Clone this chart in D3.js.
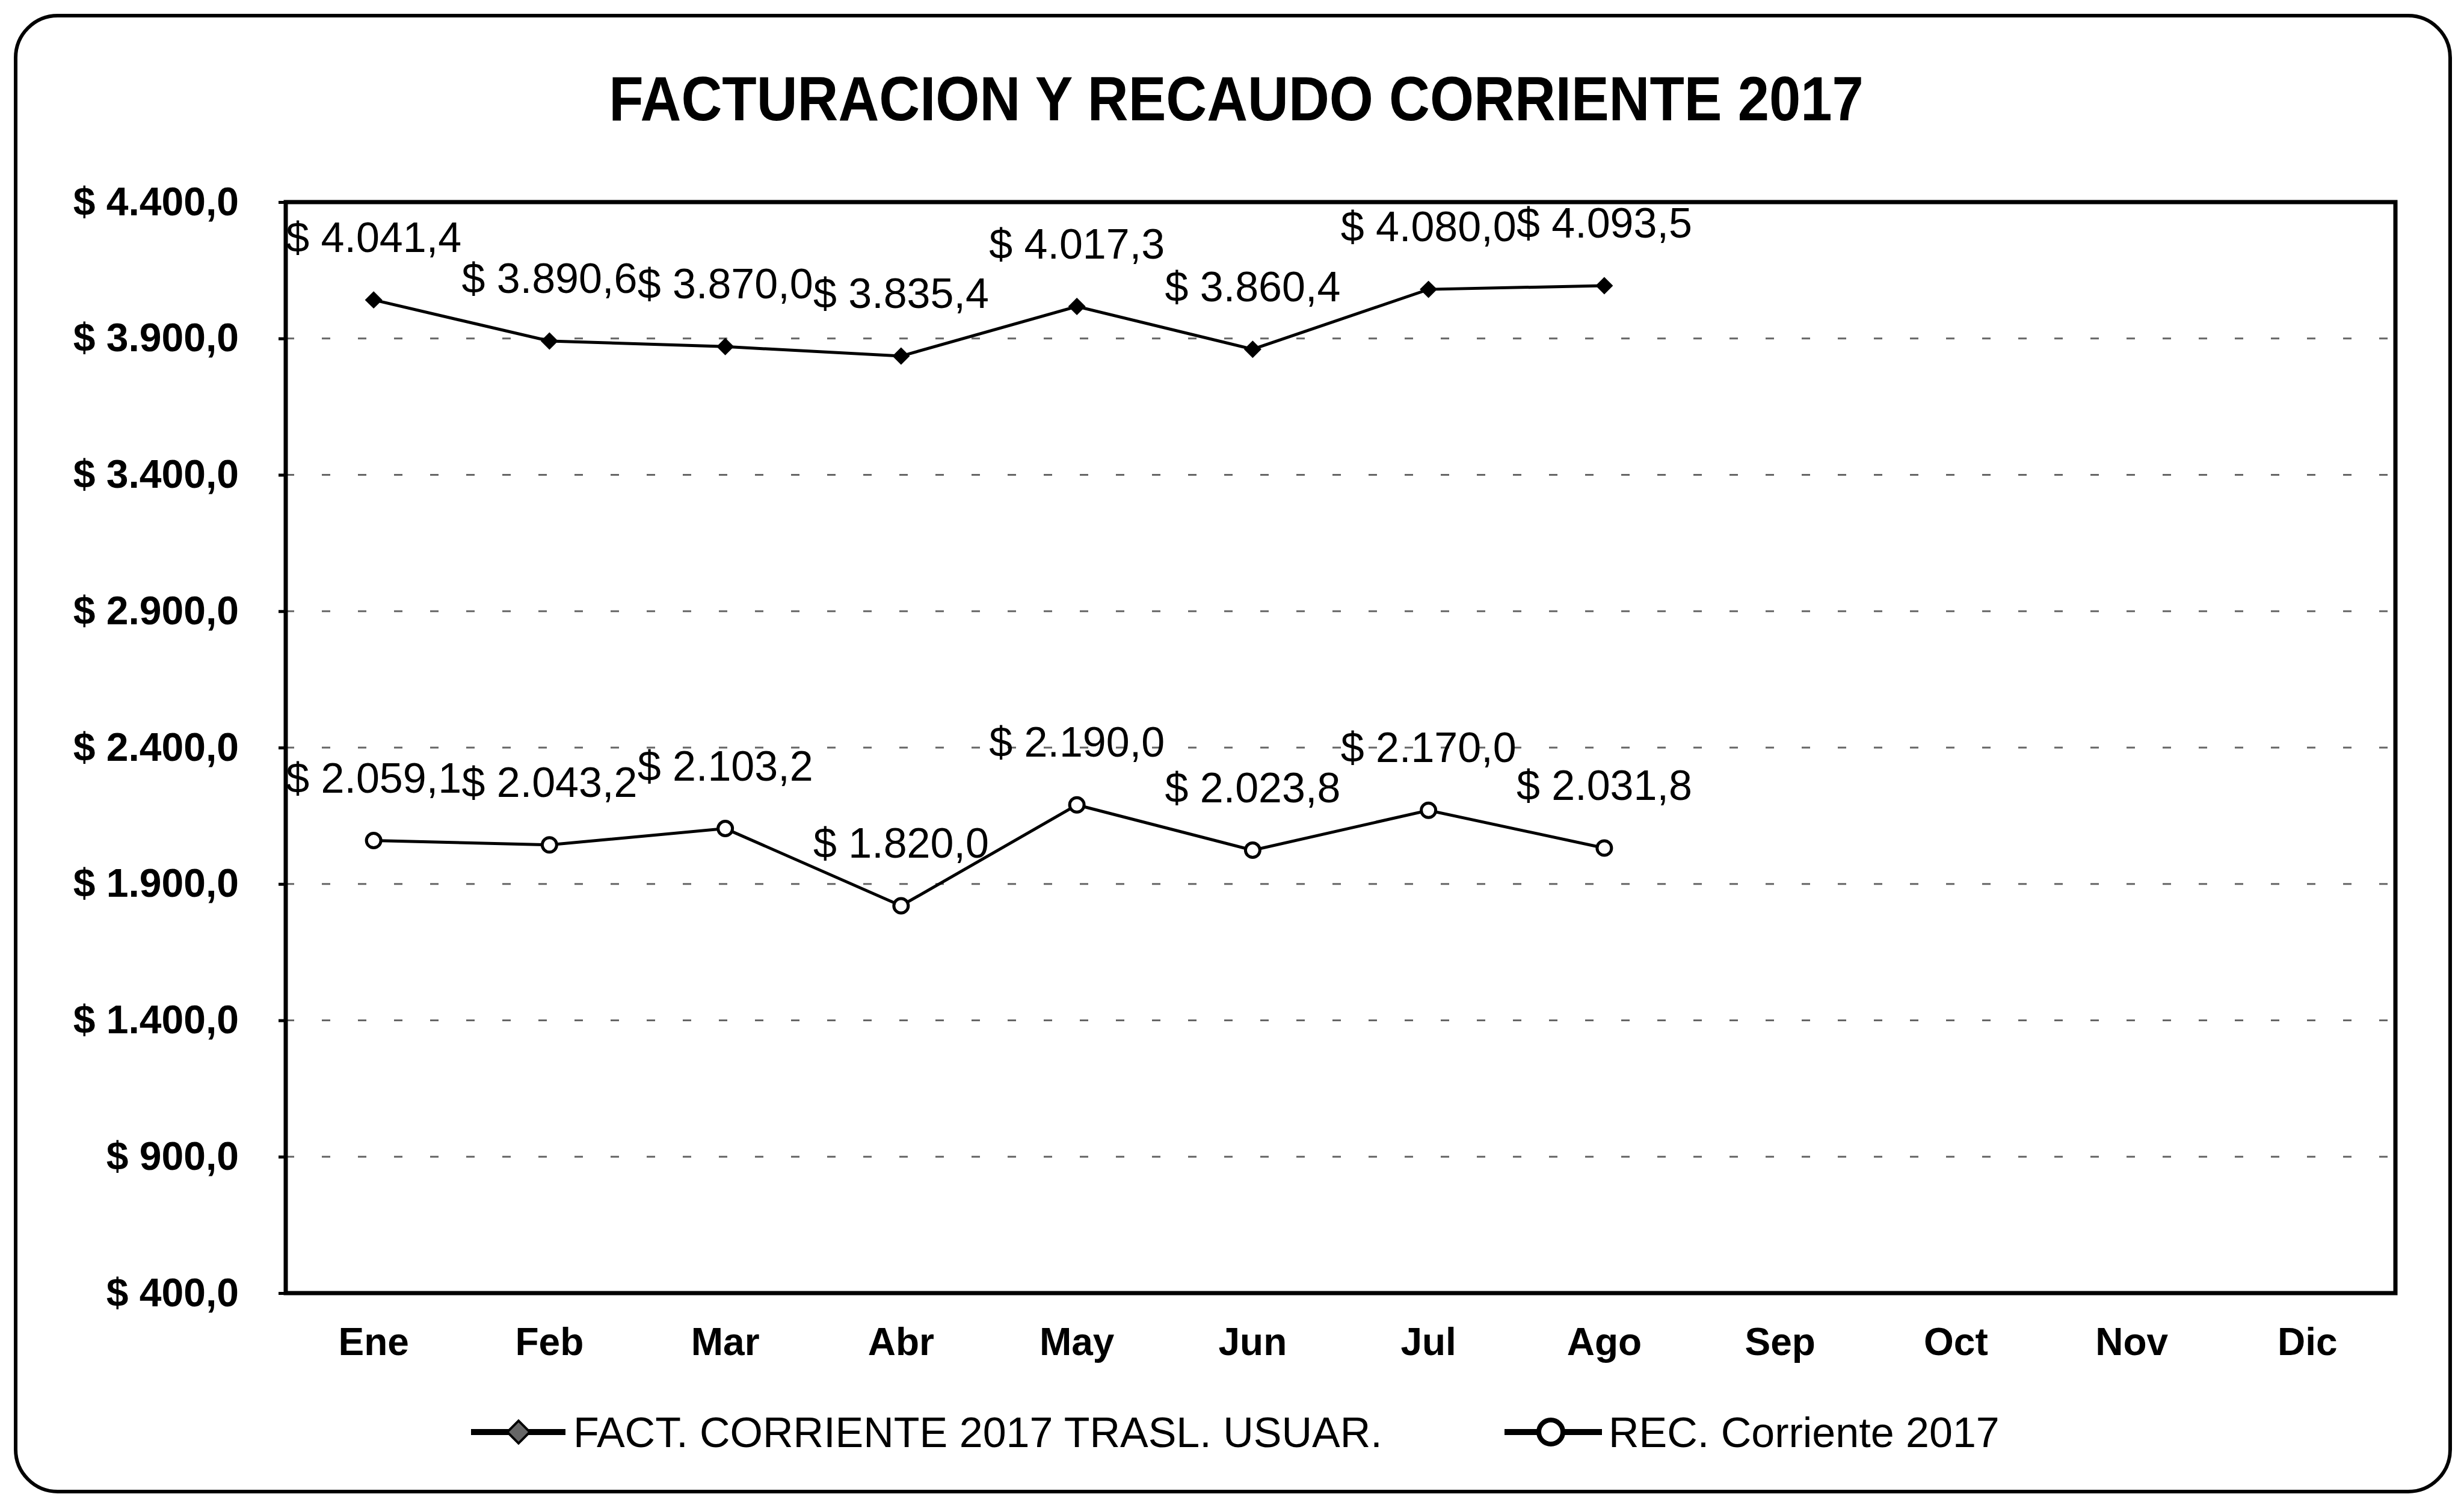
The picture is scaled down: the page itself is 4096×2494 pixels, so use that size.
<!DOCTYPE html>
<html lang="es">
<head>
  <meta charset="UTF-8">
  <title>Facturacion y Recaudo Corriente 2017</title>
  <script src="https://d3js.org/d3.v7.min.js"></script>
  <style>
    body { margin: 0; background: #fff; }
    text { font-family: "Liberation Sans", Arial, sans-serif; fill: #000; }
    .title { font-size: 94px; font-weight: bold; text-anchor: middle; }
    .y-axis text { font-size: 66px; font-weight: bold; }
    .x-axis text { font-size: 64px; font-weight: bold; }
    .axis path { display: none; }
    .y-axis line { stroke: #000; stroke-width: 5; }
    .grid line { stroke: #666; stroke-width: 3; stroke-dasharray: 14 46; }
    .label { font-size: 70px; text-anchor: middle; }
    .legend text { font-size: 70px; }
  </style>
</head>
<body>
  <div id="chart"></div>
  <script>
    // months and values (millions)
    const months = ["Ene", "Feb", "Mar", "Abr", "May", "Jun", "Jul", "Ago", "Sep", "Oct", "Nov", "Dic"];
    const factValues = [4041.4, 3890.6, 3870.0, 3835.4, 4017.3, 3860.4, 4080.0, 4093.5];
    const recValues = [2059.1, 2043.2, 2103.2, 1820.0, 2190.0, 2023.8, 2170.0, 2031.8];
    const yTicks = [400, 900, 1400, 1900, 2400, 2900, 3400, 3900, 4400];
    const seriesNames = ["FACT. CORRIENTE 2017 TRASL. USUAR.", "REC. Corriente 2017"];

    const W = 4096, H = 2494;
    const plot = { left: 475, right: 3982, top: 336, bottom: 2150 };

    const locale = d3.formatLocale({ decimal: ",", thousands: ".", grouping: [3], currency: ["$ ", ""] });
    const fmt = locale.format("$,.1f");

    const svg = d3.select("#chart").append("svg")
      .attr("width", W).attr("height", H);

    // outer rounded frame
    svg.append("rect")
      .attr("x", 26).attr("y", 26)
      .attr("width", 4073 - 26).attr("height", 2480 - 26)
      .attr("rx", 70).attr("ry", 70)
      .attr("fill", "#fff").attr("stroke", "#000").attr("stroke-width", 6);

    svg.append("text").attr("class", "title")
      .attr("transform", "translate(2055,200) scale(1,1.1)")
      .text("FACTURACION Y RECAUDO CORRIENTE 2017");

    const x = d3.scaleBand().domain(months).range([plot.left, plot.right]);
    const y = d3.scaleLinear().domain([400, 4400]).range([plot.bottom, plot.top]);
    const cx = (d, i) => x(months[i]) + x.bandwidth() / 2;

    // dashed gridlines
    svg.append("g").attr("class", "grid")
      .selectAll("line")
      .data(yTicks.slice(1, -1))
      .enter().append("line")
      .attr("x1", plot.left).attr("x2", plot.right)
      .attr("y1", d => y(d)).attr("y2", d => y(d));

    // axes
    svg.append("g").attr("class", "axis y-axis")
      .attr("transform", `translate(${plot.left},0)`)
      .call(d3.axisLeft(y).tickValues(yTicks).tickFormat(fmt).tickSize(12).tickSizeOuter(0).tickPadding(66));

    svg.append("g").attr("class", "axis x-axis")
      .attr("transform", `translate(0,${plot.bottom})`)
      .call(d3.axisBottom(x).tickSize(0).tickPadding(58));

    // plot frame
    svg.append("rect")
      .attr("x", plot.left).attr("y", plot.top)
      .attr("width", plot.right - plot.left).attr("height", plot.bottom - plot.top)
      .attr("fill", "none").attr("stroke", "#000").attr("stroke-width", 7);

    const line = d3.line().x(cx).y(d => y(d));

    // FACT series
    svg.append("path").datum(factValues)
      .attr("fill", "none").attr("stroke", "#000").attr("stroke-width", 5)
      .attr("d", line);
    svg.selectAll(".fact-mark").data(factValues).enter().append("path")
      .attr("class", "fact-mark")
      .attr("transform", (d, i) => `translate(${cx(d, i)},${y(d)}) rotate(45)`)
      .attr("d", d3.symbol(d3.symbolSquare, 420))
      .attr("fill", "#000");
    svg.selectAll(".fact-label").data(factValues).enter().append("text")
      .attr("class", "label")
      .attr("x", cx).attr("y", d => y(d) - 80)
      .text(fmt);

    // REC series
    svg.append("path").datum(recValues)
      .attr("fill", "none").attr("stroke", "#000").attr("stroke-width", 5)
      .attr("d", line);
    svg.selectAll(".rec-mark").data(recValues).enter().append("circle")
      .attr("class", "rec-mark")
      .attr("cx", cx).attr("cy", d => y(d)).attr("r", 12)
      .attr("fill", "#fff").attr("stroke", "#000").attr("stroke-width", 5);
    svg.selectAll(".rec-label").data(recValues).enter().append("text")
      .attr("class", "label")
      .attr("x", cx).attr("y", d => y(d) - 80)
      .text(fmt);

    // legend
    const legend = svg.append("g").attr("class", "legend");
    const ly = 2381;
    legend.append("line").attr("x1", 783).attr("x2", 940).attr("y1", ly).attr("y2", ly)
      .attr("stroke", "#000").attr("stroke-width", 10);
    legend.append("path").attr("transform", `translate(862,${ly}) rotate(45)`)
      .attr("d", d3.symbol(d3.symbolSquare, 700)).attr("fill", "#666").attr("stroke", "#000").attr("stroke-width", 4);
    legend.append("text").attr("x", 953).attr("y", ly + 25).text(seriesNames[0]);

    legend.append("line").attr("x1", 2501).attr("x2", 2663).attr("y1", ly).attr("y2", ly)
      .attr("stroke", "#000").attr("stroke-width", 10);
    legend.append("circle").attr("cx", 2578).attr("cy", ly).attr("r", 20)
      .attr("fill", "#fff").attr("stroke", "#000").attr("stroke-width", 8);
    legend.append("text").attr("x", 2674).attr("y", ly + 25).text(seriesNames[1]);
  </script>
</body>
</html>
